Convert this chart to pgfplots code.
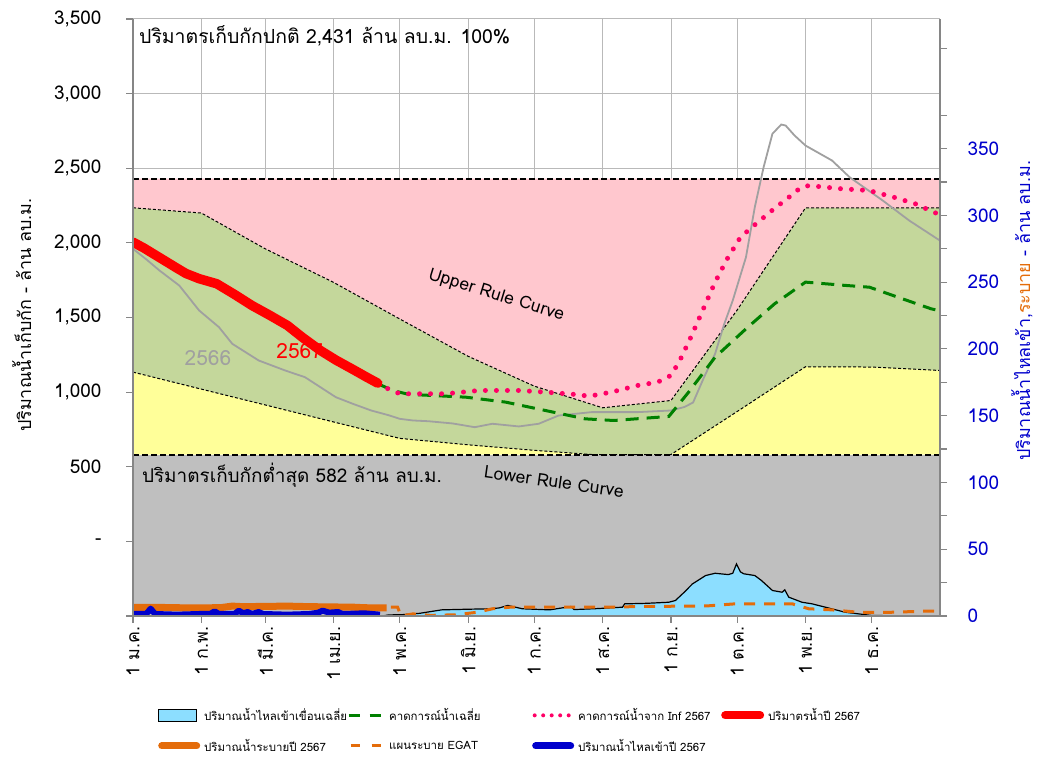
\documentclass[border=0pt]{standalone}
\usepackage{fontspec}
\setmainfont[Script=Thai]{Loma}
\usepackage{pgfplots}
\usepackage{pgfplotstable}
\pgfplotsset{compat=1.18}
\usepgfplotslibrary{fillbetween}
\definecolor{cpink}{RGB}{255,199,206}
\definecolor{cgreen}{RGB}{196,215,155}
\definecolor{cyellow}{RGB}{255,255,153}
\definecolor{cgray}{RGB}{191,191,191}
\definecolor{cinflow}{RGB}{140,222,255}
\definecolor{cred}{RGB}{255,0,0}
\definecolor{cdot}{RGB}{255,0,102}
\definecolor{cgdash}{RGB}{0,128,0}
\definecolor{corange}{RGB}{228,108,10}
\definecolor{cblue}{RGB}{0,0,204}
\definecolor{cline}{RGB}{134,134,134}
\definecolor{cgrid}{RGB}{185,185,185}
\definecolor{cold}{RGB}{160,160,160}

\pgfplotstableread{
x y
0 2235
31 2200
60 1960
91 1735
121 1490
152 1240
182 1040
213 895
244 944
274 1550
305 2235
335 2235
366 2235
}\upperrule
\pgfplotstableread{
x y
0 1134
31 1020
60 914
91 800
121 690
152 647
182 610
208 582
244 582
274 870
305 1170
335 1168
366 1145
}\lowerrule
\pgfplotstableread{
x y
0 2005
5 1965
10 1920
15 1875
20 1830
24 1795
30 1760
38 1726
46 1655
54 1580
62 1515
70 1447
77 1365
85 1279
92 1215
100 1150
106 1100
111 1060
}\storage
\pgfplotstableread{
x y
0 1960
6 1890
12 1815
21 1714
30 1547
39 1435
45 1324
57 1212
69 1145
78 1100
92 966
100 920
108 877
116 845
121 821
127 810
134 805
145 790
155 765
163 788
175 770
184 788
193 843
208 866
229 866
244 877
250 900
254 930
259 1100
264 1257
268 1450
272 1614
278 1904
282 2239
286 2507
290 2731
294 2793
296 2786
300 2720
305 2652
317 2552
325 2440
340 2284
352 2150
366 2015
}\lastyear
\pgfplotstableread{
x y
111 1056
116 1020
121 989
142 989
157 1011
175 1011
187 1000
200 985
207 973
217 1000
229 1045
238 1067
244 1112
248 1212
253 1368
259 1569
264 1737
269.5 1893
275.5 2038
281.6 2116
290.7 2228
297.5 2306
302.7 2369
306.5 2384
321.6 2362
333.7 2351
345 2306
354.8 2262
363 2206
366 2190
}\forecastinf
\pgfplotstableread{
x y
111 1056
118 1010
125 985
135 978
151 966
169 933
187 877
205 821
218 810
243 837
252 1000
264 1234
278 1424
291 1592
305 1737
323 1715
334 1703
349 1625
362 1558
366 1545
}\forecastavg
\pgfplotstableread{
x y
113 0
116 0.8
122 1.0
130 2.0
140 4.6
150 5.0
161.6 5.4
166 6.0
170 7.9
176.6 5.4
189 4.6
198.6 7.1
200 4.8
210 5.5
222 6.6
223 9.1
233 9.5
243 10.3
246 11.6
250 17.8
253.7 24
259.7 30.3
264 32
270 31
272 32
273.7 39
275.5 33
277 31.6
282 30.3
285 26.6
290 19.1
294.4 17.8
295.6 19.6
297.4 14.1
303.4 10.3
308 9.1
314 6.6
323 2.8
335 0.4
345 0.2
}\inflowavg
\pgfplotstableread{
x y
117 6.6
120 6.6
121.6 0
127 1.6
135 0.5
146.5 0.9
156 2.8
163 5.4
171 6.6
219 6.6
228 7.1
260 7.5
273 9.1
299 9.1
306.5 5.4
317 4.6
329 2.8
344 2.8
359 3.6
366 3.6
}\egat
\pgfplotstableread{
x y
0 6.5
10 6.5
20 6.2
30 6.0
40 6.3
45 7.4
50 7.0
60 7.2
70 7.4
80 7.0
90 6.8
100 6.6
105 6.2
115 6.0
}\release
\pgfplotstableread{
x y
0 1.5
6 1.5
8 5.5
10 1.5
20 1.0
30 1.5
35 1.5
37 3.5
39 1.5
46 1.5
48 4.0
50 2.0
52 3.0
54 1.5
57 3.0
59 1.5
70 1.0
80 1.5
84 2.5
86 4.0
89 2.5
93 3.0
95 1.5
105 2.0
112 1.0
}\inflow

\pgfplotsset{base/.style={at={(133bp,142bp)}, anchor=south west, width=807bp, height=597bp, scale only axis, xmin=0, xmax=366}}

\begin{document}
\begin{tikzpicture}
% ---------------- left axis : storage ----------------
\begin{axis}[base, ymin=-500, ymax=3500,
  axis x line*=bottom, axis y line*=left,
  axis line style={cline, line width=1.2bp},
  xtick={0,31,60,91,121,152,182,213,244,274,305,335},
  xticklabels={1 ม.ค.,1 ก.พ.,1 มี.ค.,1 เม.ย.,1 พ.ค.,1 มิ.ย.,1 ก.ค.,1 ส.ค.,1 ก.ย.,1 ต.ค.,1 พ.ย.,1 ธ.ค.},
  ytick={-500,0,500,1000,1500,2000,2500,3000,3500},
  yticklabels={,-,500,{1,000},{1,500},{2,000},{2,500},{3,000},{3,500}},
  tick align=outside, major tick length=7bp,
  tick style={cline, line width=1.2bp},
  grid=major, grid style={cgrid, line width=1bp},
  xticklabel style={rotate=90, anchor=east, font=\fontsize{18}{20}\selectfont},
  yticklabel style={font=\fontsize{19}{22}\selectfont, xshift=-21bp},
  ylabel={ปริมาณน้ำเก็บกัก - ล้าน ลบ.ม.},
  ylabel style={at={(axis description cs:-0.138,0.504)}, anchor=center, font=\fontsize{18}{20}\selectfont},
  ]
  \addplot[name path=pTop, draw=none, forget plot] coordinates {(0,2431) (366,2431)};
  \addplot[name path=pUp, draw=none, forget plot] table {\upperrule};
  \addplot[name path=pLow, draw=none, forget plot] table {\lowerrule};
  \addplot[name path=pMin, draw=none, forget plot] coordinates {(0,582) (366,582)};
  \addplot[name path=pBot, draw=none, forget plot] coordinates {(0,-500) (366,-500)};
  \addplot[cgray, forget plot] fill between[of=pMin and pBot];
  \addplot[cyellow, forget plot] fill between[of=pLow and pMin];
  \addplot[cgreen, forget plot] fill between[of=pUp and pLow];
  \addplot[cpink, forget plot] fill between[of=pTop and pUp];
  \addplot[black, line width=1bp, dash pattern=on 3bp off 2bp, forget plot] table {\upperrule};
  \addplot[black, line width=1bp, dash pattern=on 3bp off 2bp, forget plot] table {\lowerrule};
  \addplot[black, line width=2bp, dash pattern=on 6bp off 3bp, forget plot] coordinates {(0,2431) (366,2431)};
  \addplot[black, line width=2bp, dash pattern=on 6bp off 3bp, forget plot] coordinates {(0,582) (366,582)};
  \node[anchor=west, font=\fontsize{19.5}{22}\selectfont] at (axis cs:1.2,3385) {ปริมาตรเก็บกักปกติ 2,431 ล้าน ลบ.ม. 100\%};
  \node[anchor=west, font=\fontsize{19}{22}\selectfont] at (axis cs:2.5,441) {ปริมาตรเก็บกักต่ำสุด 582 ล้าน ลบ.ม.};
  \node[rotate=-17, font=\fontsize{17.5}{20}\selectfont] at (axis cs:164.8,1647) {Upper Rule Curve};
  \node[rotate=-8, font=\fontsize{17.5}{20}\selectfont] at (axis cs:191,401) {Lower Rule Curve};
  \node[text=cold, font=\fontsize{21}{24}\selectfont] at (axis cs:34,1225) {2566};
  \node[text=cred, font=\fontsize{21}{24}\selectfont] at (axis cs:75.6,1278) {2567};
  \addplot[cold, line width=1.8bp, forget plot] table {\lastyear};
  \addplot[cgdash, line width=3bp, dash pattern=on 13bp off 8bp, forget plot] table {\forecastavg};
  \addplot[cdot, line width=5bp, line cap=round, dash pattern=on 0bp off 11bp, forget plot] table {\forecastinf};
  \addplot[cred, line width=9.5bp, line cap=round, line join=round, forget plot] table {\storage};
\end{axis}
% ---------------- right axis : inflow / release ----------------
\begin{axis}[base, ymin=0, ymax=447,
  axis y line*=right, axis x line=none,
  axis line style={cline, line width=1.2bp},
  ytick={0,50,...,350}, minor ytick={25,75,...,425},
  tick align=outside, major tick length=7bp, minor tick length=7bp,
  tick style={cline, line width=1.2bp},
  /pgf/number format/assume math mode=true,
  yticklabel style={font=\fontsize{19}{22}\selectfont, text=cblue, xshift=17bp},
  ylabel={\textcolor{cblue}{ปริมาณน้ำไหลเข้า,}\textcolor{corange}{ระบาย}\textcolor{cblue}{\ - ล้าน ลบ.ม.}},
  ylabel style={at={(axis description cs:1.1016,0.511)}, anchor=center, rotate=0, font=\fontsize{18}{20}\selectfont},
  legend columns=4,
  legend cell align=left,
  legend style={draw=none, fill=none, at={(axis description cs:0.027,-0.148)}, anchor=north west,
    font=\fontsize{11.5}{13}\selectfont, row sep=13bp,
    /tikz/every odd column/.append style={column sep=2bp}},
  ]
  \addlegendimage{legend image code/.code={\draw[fill=cinflow,draw=black,line width=1.5bp] (0bp,-6bp) rectangle (38bp,6bp);}}
  \addlegendentry{\makebox[141bp][l]{ปริมาณน้ำไหลเข้าเขื่อนเฉลี่ย}}
  \addlegendimage{legend image code/.code={\draw[cgdash,line width=3bp,dash pattern=on 11bp off 10bp] (3bp,0bp) -- (38bp,0bp);}}
  \addlegendentry{\makebox[141bp][l]{คาดการณ์น้ำเฉลี่ย}}
  \addlegendimage{legend image code/.code={\draw[cdot,line width=4bp,line cap=round,dash pattern=on 0bp off 8.5bp] (2bp,0bp) -- (38bp,0bp);}}
  \addlegendentry{\makebox[141bp][l]{คาดการณ์น้ำจาก Inf 2567}}
  \addlegendimage{legend image code/.code={\draw[cred,line width=8bp,line cap=round] (3bp,0bp) -- (38bp,0bp);}}
  \addlegendentry{\makebox[100bp][l]{ปริมาตรน้ำปี 2567}}
  \addlegendimage{legend image code/.code={\draw[corange,line width=7bp,line cap=round] (3bp,0bp) -- (38bp,0bp);}}
  \addlegendentry{\makebox[141bp][l]{ปริมาณน้ำระบายปี 2567}}
  \addlegendimage{legend image code/.code={\draw[corange,line width=3bp,dash pattern=on 9bp off 12bp] (5bp,0bp) -- (38bp,0bp);}}
  \addlegendentry{\makebox[141bp][l]{แผนระบาย EGAT}}
  \addlegendimage{legend image code/.code={\draw[cblue,line width=7bp,line cap=round] (3bp,0bp) -- (38bp,0bp);}}
  \addlegendentry{\makebox[141bp][l]{ปริมาณน้ำไหลเข้าปี 2567}}
  \addplot[fill=cinflow, draw=none, forget plot] table {\inflowavg} \closedcycle;
  \addplot[black, line width=1.2bp, forget plot] table {\inflowavg};
  \addplot[corange, line width=3bp, dash pattern=on 11bp off 9bp, forget plot] table {\egat};
  \addplot[corange, line width=7bp, line join=round, forget plot] table {\release};
  \addplot[cblue, line width=6bp, line join=round, forget plot] table {\inflow};
\end{axis}
% ---------------- overlay : axis lines on top of the fills ----------------
\begin{axis}[base, ymin=-500, ymax=3500,
  axis x line*=bottom, axis y line*=left,
  axis line style={cline, line width=1.2bp},
  xtick=\empty, ytick=\empty]
  \addplot[draw=none, forget plot] coordinates {(0,0) (366,0)};
\end{axis}
\path (0,0) rectangle (1038bp,758bp);
\end{tikzpicture}
\end{document}
